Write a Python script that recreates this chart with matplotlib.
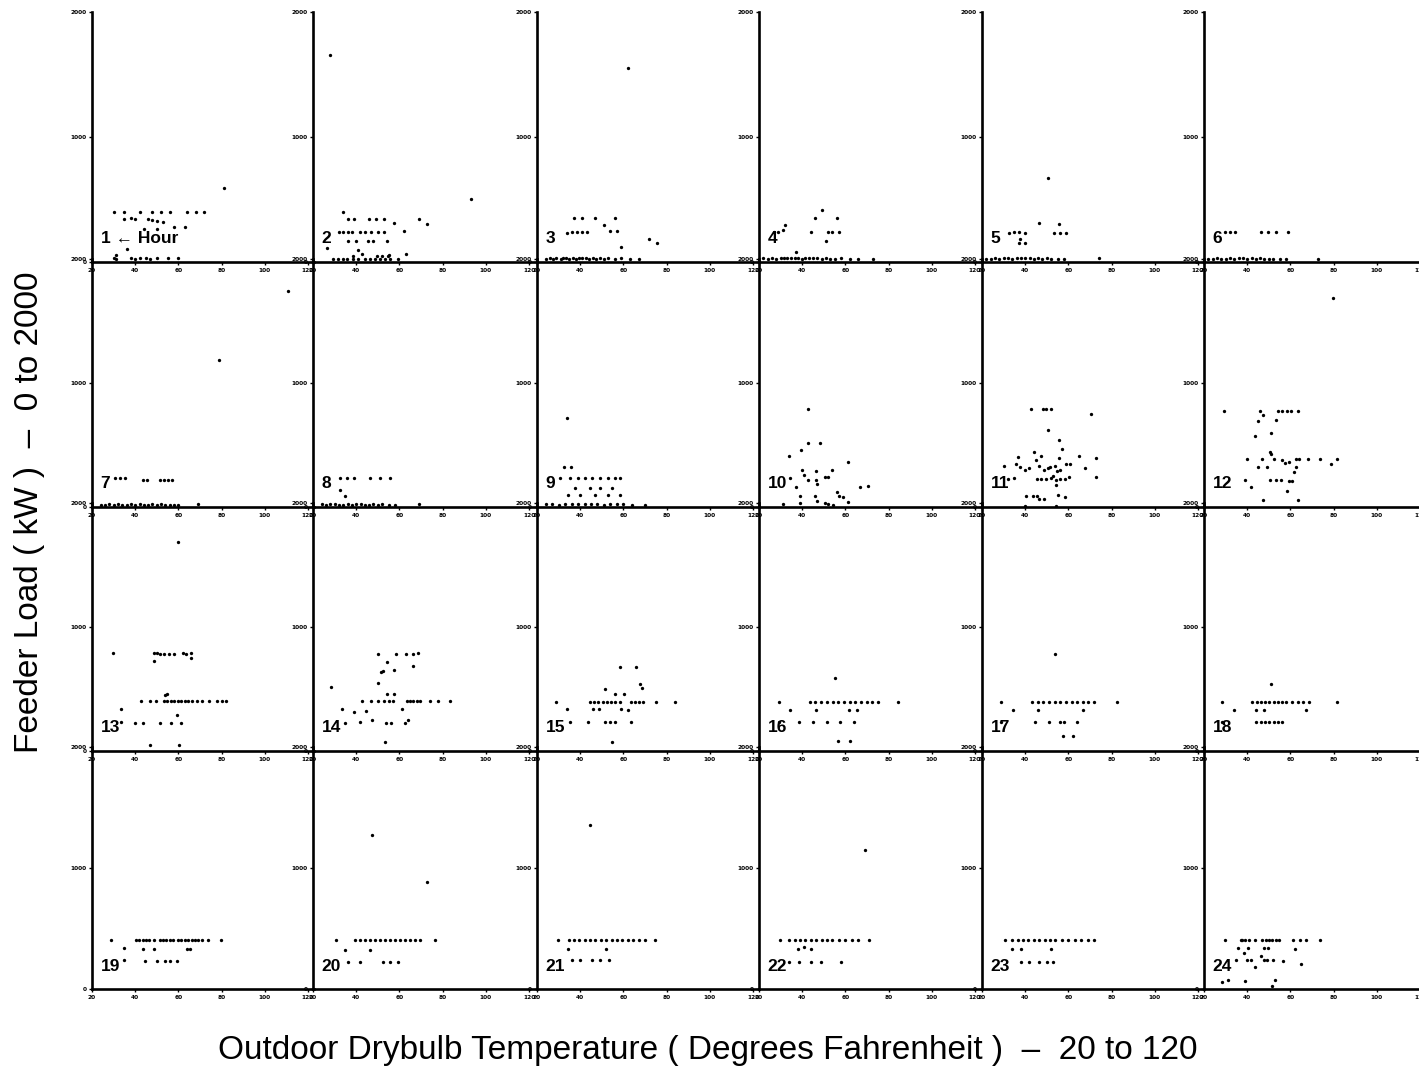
import matplotlib
matplotlib.use('Agg')
import matplotlib.pyplot as plt

plt.rcParams['font.family'] = ['Liberation Sans', 'DejaVu Sans']

# ---------------- data (temperature degF, feeder load kW) ----------------
X_TICKS = [20, 40, 60, 80, 100, 120]
Y_TICKS = [0, 1000, 2000]

hour_labels = ["1 \u2190 Hour"] + [str(h) for h in range(2, 25)]

t01 = [30, 35, 42, 48, 52, 56, 64, 68, 72, 35, 38, 40, 46, 48, 50, 53, 58, 63, 44, 50, 81, 36, 31, 31,
       30, 38, 40, 42, 45, 47, 50, 55, 60]
k01 = [400, 400, 400, 400, 400, 400, 400, 400, 400, 345, 350, 345, 345, 340, 330, 320, 283, 283, 261, 261, 595, 101, 60, 25,
       30, 30, 28, 32, 30, 27, 31, 29, 30]

t02 = [28, 93, 34, 36, 39, 46, 49, 53, 57.5, 69, 72.6, 62, 32, 34, 36, 38, 41.8, 44, 47, 50, 53, 36, 40, 45.6, 47.6, 54.4,
       26.3, 41, 42.8, 55.3, 63, 29.4, 31.7, 34, 35.6, 38.7, 41, 44, 46.4, 48.7, 51, 53.3, 55.6, 59.5, 38.7, 49.5, 51.8, 54.9]
k02 = [1656, 504, 403, 341, 341, 341, 341, 341, 315, 347, 304, 251, 237, 237, 237, 237, 237, 237, 237, 237, 237, 171, 171, 171, 171, 171,
       109, 96, 61, 59, 61, 22, 22, 22, 22, 22, 22, 22, 22, 22, 22, 22, 22, 22, 45, 45, 45, 45]

t03 = [37, 41, 47, 56, 51, 54, 57, 34, 36, 38.6, 41, 43, 59, 72, 75.6, 62,
       24, 26, 27.5, 29, 31, 32, 33.5, 35, 36.5, 38, 39.5, 41, 42.5, 44, 46, 47.5, 49, 51, 53, 56, 59, 63, 67]
k03 = [355, 350, 350, 350, 294, 245, 245, 232, 240, 240, 240, 240, 120, 187, 152, 1552,
       25, 30, 28, 32, 26, 30, 34, 28, 30, 27, 31, 29, 33, 26, 30, 28, 32, 27, 30, 26, 29, 25, 28]

t04 = [49, 46, 56, 27, 29, 31, 32, 44, 52, 54, 57, 51, 37,
       22, 24, 26, 28, 30, 31.5, 33, 35, 36.5, 38, 40, 41.5, 43, 45, 47, 49, 51, 53, 55, 58, 62, 66, 73]
k04 = [414, 352, 352, 240, 240, 254, 294, 240, 240, 240, 240, 168, 80,
       30, 27, 32, 28, 34, 30, 29, 35, 31, 33, 28, 30, 32, 29, 31, 27, 30, 28, 26, 29, 27, 25, 24]

t05 = [32.5, 34.7, 37, 40, 37.5, 39.7, 37.2, 46.4, 55.6, 53.3, 56, 59, 50.6,
       22, 24, 26, 28, 30, 32, 34, 36, 38, 40, 42, 44, 46, 48, 50, 52, 55, 58, 74]
k05 = [235, 240, 240, 232, 187, 152, 152, 312, 307, 235, 235, 235, 670,
       28, 26, 30, 27, 29, 31, 28, 30, 32, 29, 31, 28, 30, 27, 29, 26, 25, 24, 30]

t06 = [29.7, 32, 34.4, 46.4, 49.7, 53.3, 58.9,
       22, 24, 26, 28, 30, 32, 34, 36, 38, 40, 42, 44, 46, 48, 50, 52, 55, 58, 73]
k06 = [240, 240, 240, 240, 240, 240, 240,
       27, 25, 29, 26, 28, 30, 27, 29, 31, 28, 30, 27, 29, 26, 28, 25, 24, 23, 22]

t07 = [79, 110.9, 30.6, 33, 35.3, 43.8, 45.6, 51.5, 53.3, 55.3, 56.9,
       24, 26, 28, 30, 32, 34, 36, 38, 40, 42, 44, 46, 48, 50, 52, 54, 56, 58, 60, 69]
k07 = [1185, 1742, 234, 234, 234, 218, 218, 218, 218, 218, 218,
       20, 18, 22, 19, 21, 17, 20, 23, 19, 21, 18, 20, 22, 19, 21, 18, 20, 17, 19, 25]

t08 = [32.5, 35.7, 39, 46.4, 51, 55.6, 32.5, 34.8,
       24, 26, 28, 30, 32, 34, 36, 38, 40, 42, 44, 46, 48, 50, 52, 55, 58, 69]
k08 = [234, 234, 234, 234, 234, 234, 137, 89,
       22, 19, 21, 24, 20, 18, 22, 19, 21, 23, 20, 18, 21, 19, 22, 20, 18, 24]

t09 = [33.9, 32.5, 35.7, 30.6, 35.3, 39, 42.2, 45.4, 49.2, 52.9, 56.1, 58.4, 37.6, 44.5, 49.2, 54.7,
       34.3, 39.8, 46.7, 52.8, 58.4, 24, 27, 30, 33, 36, 39, 42, 45, 48, 51, 54, 57, 60, 64, 70]
k09 = [718, 323, 323, 234, 234, 234, 234, 234, 234, 234, 234, 234, 153, 153, 153, 153,
       97, 97, 97, 97, 97, 22, 25, 20, 23, 26, 21, 24, 22, 25, 20, 23, 21, 24, 20, 16]

t10 = [42.5, 42.5, 48.4, 39.4, 34, 61, 39.8, 41, 42.7, 46.4, 50.6, 52.1, 53.7, 46.4, 46.7, 34.4, 37, 66.8, 70.6,
       56, 57.2, 39, 39, 45.9, 46.7, 50.6, 52.1, 54.4, 59, 61.3, 31.3]
k10 = [788, 519, 519, 460, 411, 363, 298, 260, 218, 293, 240, 245, 298, 215, 188, 231, 159, 159, 170,
       124, 89, 86, 32, 91, 51, 32, 24, 16, 78, 38, 24]

t11 = [42.5, 48.2, 49.7, 52, 70.5, 50.5, 55.8, 56.9, 44.3, 47.1, 45.1, 55.8, 64.8, 72.8, 36.6, 30.2, 35.8, 37.8,
       39.7, 41.7, 46.6, 48.9, 50.5, 51.7, 53.8, 56.3, 54.8, 58.9, 60.9, 67.7, 72.8, 32, 34.8, 45.5, 47.1, 49.7,
       52, 52.8, 54.3, 54.3, 56.3, 58.2, 60.5, 40.5, 43.5, 45.5, 46.6, 48.6, 55.1, 58.2, 39.7, 54.3]
k11 = [793, 793, 793, 793, 747, 624, 540, 470, 441, 409, 376, 395, 409, 395, 403, 333, 349, 323,
       301, 315, 333, 301, 315, 323, 333, 301, 288, 349, 349, 315, 242, 226, 234, 226, 226, 226,
       234, 247, 220, 180, 226, 226, 242, 91, 91, 91, 65, 65, 99, 78, 11, 11]

t12 = [79.5, 29.2, 45.8, 47.5, 54.2, 56.2, 58.3, 60.5, 63.3, 45, 53.3, 51.2, 43.8, 50.5, 51.2, 40, 46.7, 52.2,
       56.2, 57.5, 59.2, 62.5, 64.2, 68, 73.8, 78.8, 81.7, 45, 49.2, 61.7, 62.5, 38.8, 41.7, 50.5, 53.3, 55.5,
       59.2, 60.8, 58.3, 47.2, 63.3]
k12 = [1685, 774, 774, 739, 774, 774, 774, 774, 774, 694, 699, 599, 570, 444, 430, 390, 390, 384,
       376, 358, 363, 390, 390, 390, 390, 349, 390, 323, 323, 282, 323, 215, 161, 215, 215, 215,
       207, 207, 126, 54, 54]

t13 = [60, 29.8, 48.6, 50.2, 51.7, 53.3, 55.7, 57.8, 62.1, 63.7, 65.7, 65.7, 48.9, 54.6, 53.7,
       42.5, 46.7, 49.4, 53.3, 54.9, 56.5, 58.1, 59.7, 61.3, 62.9, 64.4, 66.3, 68.4, 70.8, 74, 77.9, 80.3, 81.9,
       33.5, 59.4, 33.5, 39.8, 43.8, 51.7, 56.5, 61, 47, 60.5]
k13 = [1685, 793, 790, 790, 785, 785, 785, 785, 790, 785, 790, 753, 726, 462, 449,
       403, 403, 403, 403, 403, 403, 403, 403, 403, 403, 403, 403, 403, 403, 403, 403, 403, 403,
       341, 293, 234, 228, 228, 228, 228, 228, 51, 51]

t14 = [50.3, 58.6, 63, 66.2, 68.4, 54.2, 51.6, 52.3, 57.5, 66.5, 50.3, 28.3, 54.2, 57.4,
       42.6, 46.8, 50, 53.1, 55.2, 57, 63.3, 64.9, 66.5, 68, 69.6, 74.3, 77.8, 83.3,
       33.5, 39, 44.5, 61, 47.3, 34.6, 41.7, 53.6, 56.3, 62.5, 64.1, 53.3]
k14 = [785, 785, 785, 785, 790, 718, 637, 645, 651, 683, 548, 516, 462, 462,
       405, 405, 405, 405, 405, 405, 405, 405, 405, 405, 405, 405, 405, 405,
       341, 314, 323, 341, 253, 226, 234, 226, 226, 226, 247, 73]

t15 = [58.3, 65.9, 67.5, 68.6, 51.5, 56.2, 60.2, 28.7,
       44.4, 46.2, 48.3, 50.4, 52.3, 54.1, 56.2, 58.3, 63.6, 65.4, 67.2, 69.3, 75.1, 83.8,
       33.9, 45.7, 48.9, 58.8, 62, 35.2, 43.6, 51.5, 53.6, 56.2, 63.6, 54.9]
k15 = [677, 677, 538, 505, 497, 457, 457, 398,
       398, 398, 398, 398, 398, 398, 398, 398, 398, 398, 398, 398, 398, 398,
       336, 336, 336, 336, 328, 237, 237, 237, 237, 237, 237, 75]

t16 = [55.4, 29.2, 43.6, 45.7, 48.9, 51.5, 54.1, 56.7, 59.4, 62, 64.6, 67.2, 69.8, 72.5, 75.1, 84.3,
       34.4, 46.2, 61.5, 65.4, 29.2, 38.4, 44.9, 51.5, 57.6, 63.8, 56.7, 61.9]
k16 = [591, 398, 398, 398, 398, 398, 398, 398, 398, 398, 398, 398, 398, 398, 398, 398,
       331, 331, 331, 331, 237, 237, 237, 237, 237, 237, 81, 81]

t17 = [53.6, 28.7, 43.1, 45.7, 48.3, 51, 53.6, 56.2, 58.8, 61.5, 64.1, 66.7, 69.3, 72, 82.5,
       34.4, 45.7, 66.7, 28.7, 44.4, 51, 56.2, 58.1, 64.1, 57.5, 62.3]
k17 = [780, 398, 398, 398, 398, 398, 398, 398, 398, 398, 398, 398, 398, 398, 398,
       331, 331, 331, 237, 237, 237, 237, 237, 237, 121, 121]

t18 = [51, 28.4, 42.3, 44.4, 46.2, 48.3, 50.2, 52.3, 54.1, 56.2, 58.1, 60.7, 63.3, 65.9, 68.6, 81.7,
       33.9, 44.1, 47.6, 67.2, 28.4, 44.1, 46.2, 48.3, 50.2, 52.3, 54.1, 56.2]
k18 = [543, 398, 398, 398, 398, 398, 398, 398, 398, 398, 398, 398, 398, 398, 398, 398,
       331, 331, 331, 331, 237, 237, 237, 237, 237, 237, 237, 237]

t19 = [28.6, 40.6, 41.9, 43.4, 45, 46.6, 48.9, 51.3, 52.8, 54.4, 56, 57.5, 59.8, 61.4, 63, 64.5, 66.1, 67.7,
       69.2, 71.1, 73.9, 79.8, 34.8, 43.4, 48.6, 64.2, 65.3, 34.8, 44.5, 50.2, 53.9, 55.9, 59.5]
k19 = [402, 402, 402, 402, 402, 402, 402, 402, 402, 402, 402, 402, 402, 402, 402, 402, 402, 402,
       402, 402, 402, 402, 339, 333, 333, 333, 333, 237, 234, 234, 234, 234, 234]

t20 = [47.3, 72.8, 30.6, 39.4, 41.8, 44.1, 46.4, 48.7, 51, 53.3, 55.6, 57.9, 60.2, 62.5, 64.8, 67.1, 69.4, 76.5,
       34.8, 46.4, 36.2, 41.8, 52.4, 55.6, 59.4]
k20 = [1273, 884, 405, 405, 405, 405, 405, 405, 405, 405, 405, 405, 405, 405, 405, 405, 405, 405,
       322, 322, 223, 223, 223, 223, 223]

t21 = [44.5, 29.7, 35, 37, 39.5, 42, 44.5, 47, 49.5, 52, 54.5, 57, 59.5, 62, 64.5, 67, 70, 74.6,
       34.3, 52, 36, 40, 45.5, 49, 53.5]
k21 = [1355, 405, 405, 405, 405, 405, 405, 405, 405, 405, 405, 405, 405, 405, 405, 405, 405, 405,
       330, 330, 237, 237, 237, 237, 237]

t22 = [69, 34, 36.5, 39, 41.5, 44, 46.5, 49, 51.5, 54, 57, 60, 63, 66, 71, 29.5, 38, 41, 44, 34, 38.6, 44.2, 48.8, 58]
k22 = [1149, 405, 405, 405, 405, 405, 405, 405, 405, 405, 405, 405, 405, 405, 405, 405, 330, 350, 330,
       223, 223, 223, 223, 223]

t23 = [30.6, 34, 36.5, 39, 41.5, 44, 46.5, 49, 51.5, 54, 57, 60, 63, 66, 69, 72, 34, 38, 52, 38, 41.7, 46.3, 50, 53]
k23 = [405, 405, 405, 405, 405, 405, 405, 405, 405, 405, 405, 405, 405, 405, 405, 405, 330, 330, 330,
       223, 223, 223, 223, 223]

t24 = [29.8, 37, 37.8, 39, 40.9, 43.7, 47, 48.6, 50.2, 51.7, 53.3, 54.9, 61.3, 64.4, 67.1, 73.5,
       35.9, 40.6, 47.6, 49.7, 61.9, 38.6, 39.7, 41.7, 46.5, 47.6, 49.2, 52.1, 56.8, 43.8, 64.8, 34.6,
       28.3, 31.1, 39, 52.9, 51.7]
k24 = [408, 408, 408, 408, 408, 408, 408, 408, 408, 408, 408, 408, 408, 408, 408, 408,
       339, 339, 339, 339, 333, 298, 237, 237, 270, 242, 237, 237, 229, 182, 209, 242,
       55, 77, 63, 72, 22]

temps = [t01, t02, t03, t04, t05, t06, t07, t08, t09, t10, t11, t12,
         t13, t14, t15, t16, t17, t18, t19, t20, t21, t22, t23, t24]
loads = [k01, k02, k03, k04, k05, k06, k07, k08, k09, k10, k11, k12,
         k13, k14, k15, k16, k17, k18, k19, k20, k21, k22, k23, k24]

# ---------------- layout ----------------
W, H = 1419, 1072
fig = plt.figure(figsize=(W / 100, H / 100), dpi=100)
fig.patch.set_facecolor('white')

col_left = [92, 313, 537, 759, 982, 1204]
row_top = [12, 259, 503, 747]
row_bot = [262, 507, 751, 989]
panel_w = 222          # px; x=120 lands at 216 px
x_max = 20 + panel_w / 2.16

for i in range(24):
    r, c = divmod(i, 6)
    left = col_left[c] / W
    bottom = 1 - row_bot[r] / H
    height = (row_bot[r] - row_top[r]) / H
    ax = fig.add_axes([left, bottom, panel_w / W, height])
    ax.patch.set_alpha(0)
    ax.set_xlim(20, x_max)
    ax.set_ylim(0, 2000)
    ax.plot(temps[i], loads[i], 'o', color='black', ms=2.4, mew=0, clip_on=True)
    for s in ('top', 'right'):
        ax.spines[s].set_visible(False)
    for s in ('left', 'bottom'):
        ax.spines[s].set_linewidth(1.9)
        ax.spines[s].set_color('black')
    ax.set_xticks(X_TICKS)
    ax.set_yticks(Y_TICKS)
    ax.set_xticklabels([str(v) for v in X_TICKS], fontsize=4.2, fontweight='bold', family='DejaVu Sans')
    ax.set_yticklabels([str(v) for v in Y_TICKS], fontsize=4.2, fontweight='bold', family='DejaVu Sans')
    ax.tick_params(axis='both', length=2, width=1, pad=2, direction='out')
    ax.text(24, 190, hour_labels[i], fontsize=12.5, fontweight='bold', ha='left', va='center',
            family=['Liberation Sans', 'DejaVu Sans'])

fig.text(708 / W, 1 - 1050 / H,
         "Outdoor Drybulb Temperature ( Degrees Fahrenheit )  \u2013  20 to 120",
         fontsize=24, ha='center', va='center')
fig.text(30 / W, 1 - 512 / H, "Feeder Load ( kW )  \u2013  0 to 2000",
         fontsize=24, ha='center', va='center', rotation=90)

fig.savefig('out.png', dpi=100, facecolor='white')
